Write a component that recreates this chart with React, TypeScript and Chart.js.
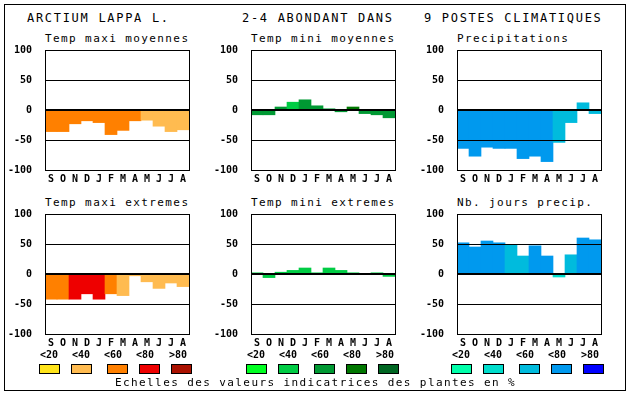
import React, { useEffect, useRef } from 'react';
import { Chart, registerables } from 'chart.js';
Chart.register(...registerables);

const months = ['S', 'O', 'N', 'D', 'J', 'F', 'M', 'A', 'M', 'J', 'J', 'A'];

const tmaxMoyValues = [-36, -36, -23, -18, -21, -41, -34, -18, -17, -27, -36, -33];
const tmaxMoyClasses = [2, 2, 2, 2, 2, 2, 2, 2, 1, 1, 1, 1];

const tminMoyValues = [-8, -8, 5, 13, 17, 7, 2, -3, 5, -6, -8, -13];
const tminMoyClasses = [2, 2, 2, 1, 2, 2, 2, 2, 3, 2, 2, 2];

const precipValues = [-64, -77, -62, -64, -64, -81, -77, -86, -54, -21, 12, -6];
const precipClasses = [3, 3, 3, 3, 3, 3, 3, 3, 2, 2, 2, 2];

const tmaxExtValues = [-42, -42, -42, -33, -42, -33, -36, -3, -13, -24, -15, -21];
const tmaxExtClasses = [2, 2, 3, 3, 3, 2, 1, 1, 1, 1, 1, 1];

const tminExtValues = [2, -6, 3, 6, 10, 2, 10, 6, 2, 0, 2, -4];
const tminExtClasses = [1, 1, 1, 1, 1, 1, 1, 1, 1, 1, 1, 1];

const joursValues = [52, 45, 55, 52, 49, 30, 47, 30, -5, 32, 60, 57];
const joursClasses = [3, 3, 3, 3, 2, 2, 3, 3, 1, 2, 3, 3];

const orangeScale = ['#FFE41A', '#FFBB50', '#FF8000', '#EE0000', '#AA1100'];
const greenScale = ['#00FF22', '#00CC44', '#009933', '#007700', '#006622'];
const blueScale = ['#00FFAA', '#00DDCC', '#00BBDD', '#0099EE', '#0000FF'];
const scaleLabels = ['<20', '<40', '<60', '<80', '>80'];

const yMin = -100;
const yMax = 100;
const yStep = 50;

const MONO = '"DejaVu Sans Mono", monospace';

const framePlugin = {
  id: 'frame',
  afterDatasetsDraw(chart: any) {
    const { ctx, chartArea: a, scales } = chart;
    const y = scales.y;
    ctx.save();
    ctx.strokeStyle = '#000';
    for (let v = yMin + yStep; v < yMax; v += yStep) {
      const base = Math.round(y.getPixelForValue(v));
      const zero = v === 0;
      ctx.lineWidth = zero ? 2 : 1;
      const py = zero ? base : base + 0.5;
      ctx.beginPath();
      ctx.moveTo(a.left, py);
      ctx.lineTo(a.right, py);
      ctx.stroke();
    }
    ctx.lineWidth = 1;
    ctx.strokeRect(a.left + 0.5, a.top + 0.5, a.right - a.left, a.bottom - a.top);
    ctx.restore();
  },
};

function Panel(props: { left: number; top: number; values: number[]; classes: number[]; palette: string[] }) {
  const ref = useRef<HTMLCanvasElement>(null);
  useEffect(() => {
    const chart = new Chart(ref.current!, {
      type: 'bar',
      data: {
        labels: months,
        datasets: [
          {
            data: props.values,
            backgroundColor: props.classes.map((c) => props.palette[c]),
            borderWidth: 0,
            barPercentage: 1,
            categoryPercentage: 1,
          },
        ],
      },
      options: {
        responsive: false,
        animation: false,
        devicePixelRatio: 1,
        layout: { padding: { top: 10, right: 10, left: 0, bottom: 0 }, autoPadding: false },
        plugins: { legend: { display: false }, tooltip: { enabled: false }, title: { display: false } },
        scales: {
          x: {
            grid: { display: false, drawTicks: false },
            border: { display: false },
            ticks: { color: '#000', font: { family: MONO, size: 10, weight: 'bold' }, padding: 3, maxRotation: 0, autoSkip: false },
            afterFit: (s: any) => { s.height = 20; },
          },
          y: {
            min: yMin,
            max: yMax,
            grid: { display: false, drawTicks: true, tickLength: 11 },
            border: { display: false },
            ticks: { stepSize: yStep, color: '#000', font: { family: MONO, size: 10, weight: 'bold' }, padding: 2 },
            afterFit: (s: any) => { s.width = 45; },
          },
        },
      },
      plugins: [framePlugin],
    } as any);
    return () => chart.destroy();
  }, []);
  return (
    <canvas
      ref={ref}
      width={199}
      height={150}
      style={{ position: 'absolute', left: props.left - 45, top: props.top - 10, width: 199, height: 150 }}
    />
  );
}

function Text(props: { x: number; y: number; size: number; spacing?: number; bold?: boolean; children: any; center?: boolean }) {
  return (
    <div
      style={{
        position: 'absolute',
        left: props.center ? props.x - 30 : props.x,
        width: props.center ? 60 : undefined,
        textAlign: props.center ? 'center' : 'left',
        top: props.y - 7,
        height: 14,
        lineHeight: '14px',
        fontFamily: MONO,
        fontSize: props.size,
        fontWeight: props.bold ? 'bold' : 'normal',
        letterSpacing: props.spacing ?? 0,
        whiteSpace: 'pre',
        color: '#000',
      }}
    >
      {props.children}
    </div>
  );
}

const panelLefts = [45, 251, 457];
const panelTops = [50, 214];
const legendLefts = [39, 246, 451];
const boxOffsets = [0, 32, 68, 100, 132];
const labelOffsets = [10, 42, 74, 106, 139];

export default function App() {
  const palettes = [orangeScale, greenScale, blueScale];
  return (
    <div style={{ position: 'fixed', left: 0, top: 0, width: 630, height: 394, background: '#fff', overflow: 'hidden' }}>
      <div style={{ position: 'absolute', left: 4, top: 4, width: 622, height: 387, border: '1px solid #000', boxSizing: 'border-box' }} />
      <Text x={27} y={18} size={12} spacing={1.7}>ARCTIUM LAPPA L.</Text>
      <Text x={242} y={18} size={12} spacing={1.7}>2-4 ABONDANT DANS</Text>
      <Text x={424} y={18} size={12} spacing={1.7}>9 POSTES CLIMATIQUES</Text>

      <Text x={45} y={39} size={11} spacing={1.4}>Temp maxi moyennes</Text>
      <Text x={251} y={39} size={11} spacing={1.4}>Temp mini moyennes</Text>
      <Text x={457} y={39} size={11} spacing={1.4}>Precipitations</Text>
      <Text x={45} y={203} size={11} spacing={1.4}>Temp maxi extremes</Text>
      <Text x={251} y={203} size={11} spacing={1.4}>Temp mini extremes</Text>
      <Text x={457} y={203} size={11} spacing={1.4}>Nb. jours precip.</Text>

      <Panel left={panelLefts[0]} top={panelTops[0]} values={tmaxMoyValues} classes={tmaxMoyClasses} palette={orangeScale} />
      <Panel left={panelLefts[1]} top={panelTops[0]} values={tminMoyValues} classes={tminMoyClasses} palette={greenScale} />
      <Panel left={panelLefts[2]} top={panelTops[0]} values={precipValues} classes={precipClasses} palette={blueScale} />
      <Panel left={panelLefts[0]} top={panelTops[1]} values={tmaxExtValues} classes={tmaxExtClasses} palette={orangeScale} />
      <Panel left={panelLefts[1]} top={panelTops[1]} values={tminExtValues} classes={tminExtClasses} palette={greenScale} />
      <Panel left={panelLefts[2]} top={panelTops[1]} values={joursValues} classes={joursClasses} palette={blueScale} />

      {legendLefts.map((gx, g) =>
        scaleLabels.map((lab, i) => (
          <React.Fragment key={g + '-' + i}>
            <Text x={gx + labelOffsets[i]} y={355} size={10} bold center>{lab}</Text>
            <div
              style={{
                position: 'absolute',
                left: gx + boxOffsets[i],
                top: 364,
                width: 21,
                height: 10,
                boxSizing: 'border-box',
                border: '1px solid #000',
                background: palettes[g][i],
              }}
            />
          </React.Fragment>
        ))
      )}
      <Text x={115} y={383} size={11} spacing={1.4}>Echelles des valeurs indicatrices des plantes en %</Text>
    </div>
  );
}
